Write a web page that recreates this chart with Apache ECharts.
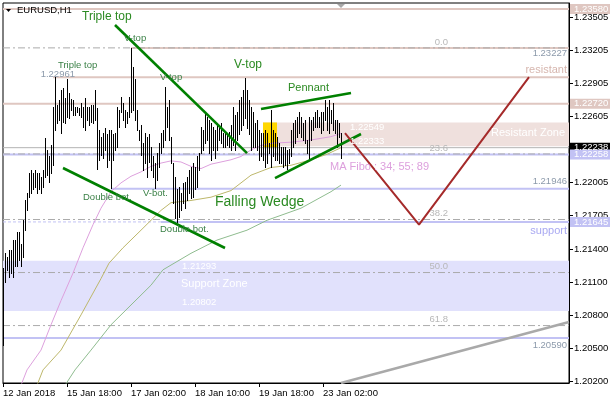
<!DOCTYPE html>
<html><head><meta charset="utf-8">
<script src="https://cdn.jsdelivr.net/npm/echarts@6/dist/echarts.min.js"></script>
<style>html,body{margin:0;padding:0;background:#fff}#c{width:610px;height:400px}</style>
</head><body><div id="c"></div>
<script>
// ---------- data ----------
const xLabels = ['12 Jan 2018','15 Jan 18:00','17 Jan 02:00','18 Jan 10:00','19 Jan 18:00','23 Jan 02:00'];
const labelStep = 32;          // H1 bars between time labels
const slotCount = 284;         // bar slots on the time axis (incl. future space)
const yTicks = [1.23505,1.23205,1.22905,1.22605,1.22305,1.22005,1.21705,1.21400,1.21100,1.20800,1.20500,1.20200];

const high = [
1.2123,1.2136,1.2133,1.2139,1.2139,1.2148,1.2148,1.2155,1.2155,1.2144,
1.2166,1.2184,1.2191,1.2209,1.2212,1.2209,1.2212,1.2209,1.2209,1.2205,
1.2212,1.2241,1.2230,1.2224,1.2234,1.2269,1.2296,1.2271,1.2275,1.2284,
1.2286,1.2277,1.2294,1.2282,1.2276,1.2275,1.2269,1.2269,1.2268,1.2273,
1.2269,1.2277,1.2269,1.2269,1.2271,1.2271,1.2284,1.2268,1.2248,1.2242,
1.2245,1.2250,1.2244,1.2248,1.2248,1.2244,1.2245,1.2269,1.2266,1.2278,
1.2273,1.2266,1.2264,1.2278,1.2323,1.2305,1.2294,1.2266,1.2248,1.2253,
1.2236,1.2245,1.2242,1.2244,1.2233,1.2224,1.2218,1.2227,1.2236,1.2245,
1.2248,1.2287,1.2269,1.2275,1.2242,1.2218,1.2205,1.2194,1.2196,1.2191,
1.2200,1.2201,1.2205,1.2212,1.2214,1.2218,1.2214,1.2224,1.2227,1.2251,
1.2248,1.2264,1.2260,1.2257,1.2254,1.2251,1.2248,1.2254,1.2251,1.2254,
1.2245,1.2245,1.2245,1.2246,1.2253,1.2269,1.2262,1.2264,1.2275,1.2278,
1.2284,1.2295,1.2284,1.2275,1.2269,1.2264,1.2254,1.2257,1.2248,1.2245,
1.2245,1.2248,1.2245,1.2236,1.2266,1.2248,1.2245,1.2242,1.2236,1.2233,
1.2233,1.2233,1.2230,1.2231,1.2248,1.2254,1.2257,1.2260,1.2264,1.2260,
1.2254,1.2257,1.2239,1.2260,1.2257,1.2260,1.2264,1.2266,1.2260,1.2264,
1.2264,1.2275,1.2269,1.2275,1.2266,1.2273,1.2257,1.2257,1.2254,1.2245
];
const low = [
1.2053,1.2110,1.2121,1.2114,1.2118,1.2114,1.2124,1.2124,1.2130,1.2124,
1.2133,1.2157,1.2175,1.2187,1.2191,1.2194,1.2196,1.2191,1.2194,1.2191,
1.2196,1.2205,1.2207,1.2201,1.2209,1.2216,1.2248,1.2254,1.2257,1.2245,
1.2255,1.2254,1.2260,1.2259,1.2266,1.2262,1.2262,1.2264,1.2262,1.2260,
1.2251,1.2248,1.2257,1.2253,1.2255,1.2254,1.2257,1.2213,1.2221,1.2225,
1.2223,1.2230,1.2214,1.2221,1.2195,1.2221,1.2230,1.2233,1.2251,1.2264,
1.2257,1.2251,1.2254,1.2260,1.2264,1.2266,1.2257,1.2248,1.2239,1.2225,
1.2212,1.2218,1.2205,1.2219,1.2212,1.2205,1.2195,1.2203,1.2214,1.2227,
1.2233,1.2239,1.2251,1.2239,1.2218,1.2182,1.2168,1.2164,1.2169,1.2175,
1.2182,1.2177,1.2184,1.2191,1.2186,1.2187,1.2194,1.2196,1.2212,1.2227,
1.2230,1.2236,1.2239,1.2227,1.2221,1.2230,1.2223,1.2230,1.2239,1.2236,
1.2233,1.2233,1.2234,1.2233,1.2230,1.2234,1.2230,1.2239,1.2244,1.2248,
1.2253,1.2259,1.2250,1.2244,1.2230,1.2233,1.2233,1.2230,1.2221,1.2224,
1.2221,1.2214,1.2218,1.2227,1.2214,1.2224,1.2221,1.2221,1.2218,1.2218,
1.2214,1.2216,1.2213,1.2218,1.2224,1.2233,1.2236,1.2242,1.2245,1.2242,
1.2239,1.2236,1.2227,1.2221,1.2239,1.2248,1.2251,1.2251,1.2251,1.2245,
1.2248,1.2257,1.2248,1.2245,1.2254,1.2248,1.2245,1.2233,1.2242,1.2223
];
// moving averages, [bar index, price]
const ma34 = [[9,1.2016],[12,1.2030],[19,1.2048],[24,1.2071],[29,1.2093],[35,1.2118],[40,1.2141],[45,1.2162],[49,1.2177],[54,1.2192],[59,1.2200],[64,1.2206],[69,1.2210],[74,1.2215],[79,1.2218],[84,1.2220],[89,1.2219],[94,1.2215],[99,1.2213],[104,1.2217],[109,1.2219],[114,1.2221],[119,1.2224],[124,1.2230],[129,1.2234],[134,1.2236],[144,1.2237],[154,1.2239],[164,1.2242],[169,1.2245]];
const ma55 = [[17,1.2016],[20,1.2030],[29,1.2048],[39,1.2080],[49,1.2113],[53,1.2127],[60,1.2141],[69,1.2157],[74,1.2166],[79,1.2175],[84,1.2182],[94,1.2184],[104,1.2187],[114,1.2193],[124,1.2207],[134,1.2214],[144,1.2216],[154,1.2221],[162,1.2226],[169,1.2232]];
const ma89 = [[31,1.2016],[36,1.2030],[44,1.2048],[54,1.2071],[64,1.2089],[74,1.2107],[80,1.2121],[94,1.2136],[107,1.2148],[122,1.2157],[132,1.2166],[149,1.2177],[164,1.2192],[169,1.2198]];

// horizontal levels
const resistLevels = [[0,1.23580],[64,1.23227],[25,1.22961],[0,1.22720]];   // [start bar, price]
const supportLevels = [[0,1.22258],[54,1.21946],[79,1.21645],[0,1.20590]];
const fibNames = ['0.0','23.6','38.2','50.0','61.8'];
const fibPrices = [1.23227,1.22263,1.21667,1.21185,1.20703];
const bidPrice = 1.22320, bidText = '1.22238';
const resistZone = [1.22549,1.22333];
const supportZone = [1.21293,1.20835];
const zoneMarker = [130,137];

// trend lines [bar, price]
const wedgeUpper = [[56,1.23435],[122,1.22271]];
const wedgeLower = [[30,1.22135],[111,1.21408]];
const pennantUpper = [[129,1.22671],[174,1.22817]];
const pennantLower = [[136,1.22044],[179,1.22444]];
const forecast = [[171,1.22453],[208,1.21620],[263,1.22961]];
const greyTrend = [[169,1.20181],[283,1.20735]];

// ---------- chart ----------
const yMin = 1.20181, yMax = 1.23635;
const FONT = '"Liberation Sans", Arial, sans-serif';
const PINK = '#dfc7c1', LAV = '#c2c2f4', FIB = '#ababab';
const cats = Array.from({length: slotCount}, (_, i) => String(i));
const last = slotCount - 1;
const isLabel = i => i % labelStep === 0 && i / labelStep < xLabels.length;

function lineS(data, color, width, type, z) {
  return {type:'line', data, symbol:'none', silent:true, animation:false, clip:true,
    lineStyle:{color, width, type: type || 'solid', cap:'butt'}, z: z || 2};
}
function rectS(x0, x1, v0, v1, color, z) {
  return {type:'custom', silent:true, z, data:[[x0, v0, x1, v1]], encode:{x:[0,2], y:[1,3]},
    renderItem:(p, api) => {
      const a = api.coord([api.value(0), api.value(1)]);
      const b = api.coord([api.value(2), api.value(3)]);
      return {type:'rect', shape:{x:a[0], y:a[1], width:b[0]-a[0], height:b[1]-a[1]}, style:{fill:color}};
    }};
}

const series = [];
series.push(rectS(0, last, supportZone[0], supportZone[1], '#e1e1fc', 1));
series.push(rectS(zoneMarker[0], last, resistZone[0], resistZone[1], '#efe0dd', 1));
series.push(rectS(zoneMarker[0], zoneMarker[1], resistZone[0], resistZone[1] - 0.00017, '#ffd700', 1));
resistLevels.forEach(([s, v]) => series.push(lineS([[s, v],[last, v]], PINK, 2)));
series.push(lineS([[0, 1.21645],[last, 1.21645]], LAV, 1, [3,2]));
supportLevels.forEach(([s, v]) => series.push(lineS([[s, v],[last, v]], LAV, 2)));
series.push(lineS([[0, bidPrice],[last, bidPrice]], '#b4b4b4', 1));
fibPrices.forEach(v => series.push(lineS([[0, v],[last, v]], FIB, 1, [7,3,2,3], 3)));
series.push(lineS(ma34, '#dda0dd', 1, 'solid', 4));
series.push(lineS(ma55, '#bdb76b', 1, 'solid', 4));
series.push(lineS(ma89, '#8fbc8f', 1, 'solid', 4));
series.push({type:'custom', silent:true, z:5, data: high.map((h, i) => [i, h, low[i]]), encode:{x:0, y:[1,2]},
  renderItem:(p, api) => {
    const t = api.coord([api.value(0), api.value(1)]);
    const b = api.coord([api.value(0), api.value(2)]);
    const x = Math.round(t[0]) + 0.5;
    return {type:'line', shape:{x1:x, y1:Math.round(t[1]), x2:x, y2:Math.round(b[1]) + 1}, style:{stroke:'#000', lineWidth:1}};
  }});
[wedgeUpper, wedgeLower, pennantUpper, pennantLower].forEach(d => series.push(lineS(d, '#008000', 2.6, 'solid', 6)));
series.push(lineS(forecast, '#a52a2a', 2, 'solid', 6));
series.push(lineS(greyTrend, '#a9a9a9', 2.5, 'solid', 6));

const chart = echarts.init(document.getElementById('c'));
chart.setOption({
  animation:false,
  grid:{left:3, right:41, top:3, bottom:17, show:true, borderColor:'#000', borderWidth:1, backgroundColor:'#fff', outerBoundsMode:'none'},
  xAxis:{type:'category', data:cats, boundaryGap:false,
    axisLine:{lineStyle:{color:'#000', width:1}},
    axisTick:{show:true, length:4, interval:(i) => isLabel(i), lineStyle:{color:'#000'}},
    axisLabel:{interval:(i) => isLabel(i), formatter:(v, i) => xLabels[i / labelStep] || '', align:'left',
      color:'#000', fontSize:9.5, fontFamily:FONT, margin:5},
    splitLine:{show:false}},
  yAxis:{type:'value', position:'right', min:yMin, max:yMax,
    axisLine:{show:true, lineStyle:{color:'#000'}},
    axisTick:{show:true, length:4, customValues:yTicks, lineStyle:{color:'#000'}},
    axisLabel:{customValues:yTicks, formatter:v => v.toFixed(5), color:'#000', fontSize:9.5, fontFamily:FONT, margin:5},
    splitLine:{show:false}},
  series
});

// ---------- annotations (anchored to data coordinates) ----------
function P(idx, v) {
  const a = chart.convertToPixel({gridIndex:0}, [0, v]);
  const b = chart.convertToPixel({gridIndex:0}, [1, v]);
  return [a[0] + idx * (b[0] - a[0]), a[1]];
}
const G1 = '#2b8a22', G2 = '#3a8046', DESC = '#8c9aab';
const notes = [
  ['Triple top', 39.5, 1.23507, 12, G1, 'left'],
  ['V-top', 60.5, 1.23317, 9.5, G2, 'left'],
  ['Triple top', 27.5, 1.23071, 9.5, G2, 'left'],
  ['1.22961', 36, 1.22989, 9.5, DESC, 'right'],
  ['V-top', 78.5, 1.22962, 9.5, G2, 'left'],
  ['V-top', 115.5, 1.23071, 12, G1, 'left'],
  ['Pennant', 142.5, 1.22862, 11, G1, 'left'],
  ['Double bot.', 40, 1.21871, 9.5, G2, 'left'],
  ['V-bot.', 70, 1.21908, 9.5, G2, 'left'],
  ['Falling Wedge', 106, 1.21826, 14, G1, 'left'],
  ['Double bot.', 78.5, 1.21580, 9.5, G2, 'left'],
  ['MA Fibo : 34; 55; 89', 163.5, 1.22144, 11, '#dda0dd', 'left'],
  ['1.23227', 282, 1.23180, 9.5, DESC, 'right'],
  ['1.21946', 282, 1.22010, 9.5, DESC, 'right'],
  ['1.20590', 282, 1.20525, 9.5, DESC, 'right'],
  ['resistant', 282, 1.23026, 11, '#d6b6ae', 'right'],
  ['support', 282, 1.21565, 11, '#a9a9f2', 'right'],
  ['Resistant Zone', 281, 1.22450, 11, '#ffffff', 'right'],
  ['1.22549', 173.5, 1.22508, 9.5, '#ffffff', 'left'],
  ['1.22333', 173.5, 1.22380, 9.5, '#ffffff', 'left'],
  ['1.21293', 89.5, 1.21244, 9.5, '#ffffff', 'left'],
  ['Support Zone', 89, 1.21080, 11, '#ffffff', 'left'],
  ['1.20802', 89.5, 1.20917, 9.5, '#ffffff', 'left']
];
const g = [];
notes.forEach(([t, i, v, s, c, al]) => {
  const p = P(i, v);
  g.push({type:'text', x:p[0], y:p[1], z:100, silent:true,
    style:{text:t, fill:c, font:s + 'px ' + FONT, align:al, verticalAlign:'middle'}});
});
fibNames.forEach((n, k) => {
  const p = P(222.5, fibPrices[k]);
  g.push({type:'text', x:p[0], y:p[1] - 6, z:100, silent:true,
    style:{text:n, fill:'#b8b8b8', font:'9.5px ' + FONT, align:'right', verticalAlign:'middle'}});
});
// price boxes on the axis
const axisX = P(last, yMax)[0];
const boxes = [[1.23580, '1.23580', PINK], [1.22720, '1.22720', PINK], [bidPrice, bidText, '#000000'], [1.22258, '1.22258', LAV], [1.21645, '1.21645', LAV]];
boxes.forEach(([v, t, c]) => {
  const y = P(0, v)[1];
  g.push({type:'rect', z:101, silent:true, shape:{x:axisX + 1, y:y - 5, width:610 - axisX, height:10}, style:{fill:c}});
  g.push({type:'text', z:102, silent:true, x:axisX + 5, y:y, style:{text:t, fill:'#fff', font:'9.5px ' + FONT, align:'left', verticalAlign:'middle'}});
});
// chart-shift marker & title
const m = P(169, yMax);
g.push({type:'polygon', z:101, silent:true, shape:{points:[[m[0]-4, m[1]+1],[m[0]+4, m[1]+1],[m[0], m[1]+5]]}, style:{fill:'#a8a8a8'}});
g.push({type:'polygon', z:101, silent:true, shape:{points:[[6,9],[11,9],[8.5,12]]}, style:{fill:'#000'}});
g.push({type:'text', z:101, silent:true, x:17, y:10.5, style:{text:'EURUSD,H1', fill:'#000', font:'9.5px ' + FONT, align:'left', verticalAlign:'middle'}});
chart.setOption({graphic:{elements:g}});
</script></body></html>
